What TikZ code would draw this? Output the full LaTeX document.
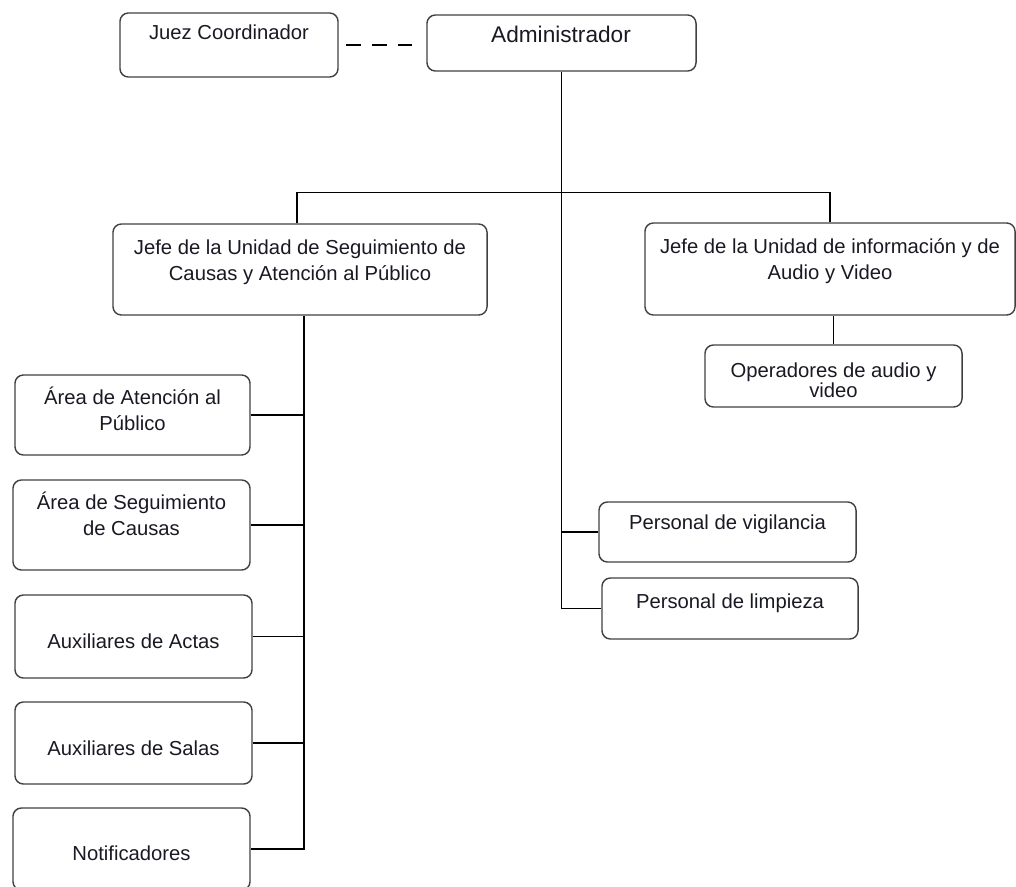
\documentclass[tikz,border=0pt]{standalone}
\usepackage{fontspec}
\setmainfont{Liberation Sans}
\usetikzlibrary{positioning}
\definecolor{boxgray}{RGB}{64,64,64}
\definecolor{inkdark}{RGB}{25,25,35}

\begin{document}
\begin{tikzpicture}[x=0.025cm, y=-0.025cm,
  box/.style 2 args={draw=boxgray, line width=1pt, rounded corners=6pt,
                     inner sep=0pt, minimum width=#1, minimum height=#2},
  txt/.style={anchor=base, align=center, inner sep=0pt, text=inkdark,
              font=\fontsize{14.4}{17.8}\selectfont},
  link/.style={line width=1pt, black},
]
\useasboundingbox (0,0) rectangle (1016,886);

% Top level
\node[box={5.45cm}{1.6cm}] (juez) at (229,45) {};
\node[box={6.725cm}{1.4cm}] (admin) at (561.5,43) {};
\node[txt] (juez-t) at (229,40) {Juez Coordinador};
\node[txt, font=\fontsize{16.1}{19}\selectfont] (admin-t) at (561,43) {Administrador};

% Heads of unit
\node[box={9.35cm}{2.275cm}] (jefeA) at (300,269.5) {};
\node[box={9.25cm}{2.3cm}] (jefeB) at (830,269) {};
\node[txt] (jefeA-t) at (300,280) {Jefe de la Unidad de Seguimiento de\\Causas y Atención al Público};
\node[txt] (jefeB-t) at (830,279) {Jefe de la Unidad de información y de\\Audio y Video};

\node[box={6.425cm}{1.55cm}] (oper) at (833.5,376) {};
\node[txt] (oper-t) at (833.5,397) {Operadores de audio y\\[-4pt]video};

% Staff under the administrator
\node[box={6.425cm}{1.5cm}] (vigil) at (727.5,532) {};
\node[box={6.4cm}{1.525cm}] (limp) at (730,608.5) {};
\node[txt] (vigil-t) at (727.5,529) {Personal de vigilancia};
\node[txt] (limp-t) at (730,608) {Personal de limpieza};

% Areas on the left
\node[box={5.875cm}{2cm}] (areaA) at (132.5,415) {};
\node[box={5.925cm}{2.25cm}] (areaS) at (131.5,525) {};
\node[box={5.925cm}{2.075cm}] (actas) at (133.5,636.5) {};
\node[box={5.925cm}{2.05cm}] (salas) at (133.5,743) {};
\node[box={5.925cm}{2.05cm}] (notif) at (131.5,849) {};
\node[txt] (areaA-t) at (132.5,430) {Área de Atención al\\Público};
\node[txt] (areaS-t) at (131.5,535) {Área de Seguimiento\\de Causas};
\node[txt] (actas-t) at (133.5,648) {Auxiliares de Actas};
\node[txt] (salas-t) at (133.5,755) {Auxiliares de Salas};
\node[txt] (notif-t) at (131.5,860) {Notificadores};

% Connectors
\draw[link, dash pattern=on 10.7pt off 7.8pt, shorten <=5pt, shorten >=10.5pt]
  (juez.east) -- (juez.east -| admin.west);
\draw[link] (admin.south) -- (admin.south |- limp.west) -- (limp.west);
\draw[link] (admin.south |- vigil.west) -- (vigil.west);
\draw[link] ([xshift=-2pt]jefeA.north) -- ++(0,-31) -| (jefeB.north);
\draw[link] (oper.north) -- (oper.north |- jefeB.south);

\coordinate (spine) at ([xshift=2.8pt]jefeA.south);
\draw[link] (spine) |- (notif.east);
\foreach \n in {areaA, areaS, actas, salas}
  \draw[link] (\n.east) -- (\n.east -| spine);
\end{tikzpicture}
\end{document}
